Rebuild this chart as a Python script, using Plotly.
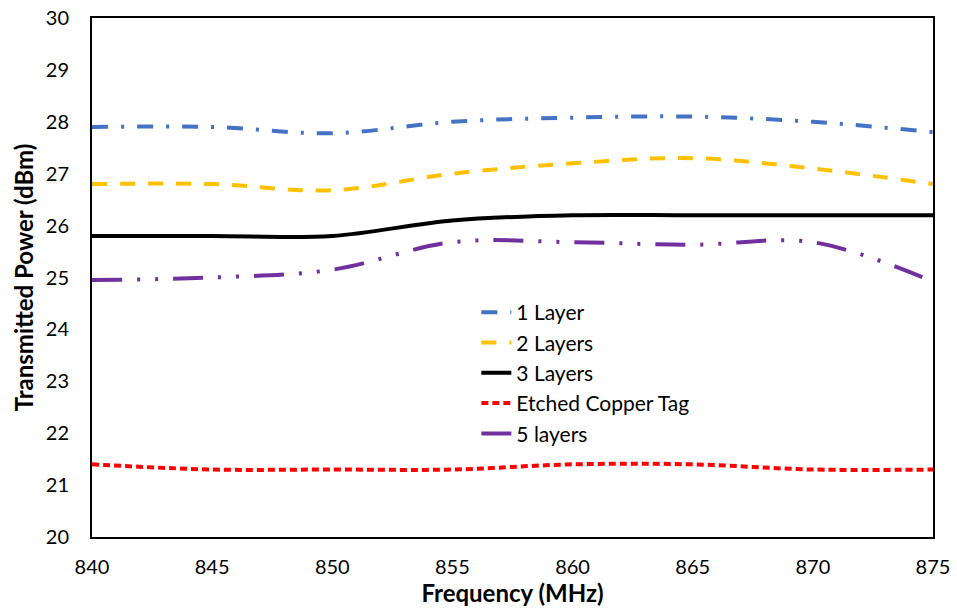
import plotly.graph_objects as go

freq = [840, 845, 850, 855, 860, 865, 870, 875]
layer1 = [27.9, 27.9, 27.78, 28.0, 28.08, 28.1, 28.0, 27.8]
layer2 = [26.8, 26.8, 26.68, 27.0, 27.2, 27.3, 27.1, 26.8]
layer3 = [25.8, 25.8, 25.8, 26.1, 26.2, 26.2, 26.2, 26.2]
copper = [21.4, 21.3, 21.3, 21.3, 21.4, 21.4, 21.3, 21.3]
layer5 = [24.95, 25.0, 25.15, 25.68, 25.68, 25.63, 25.68, 24.92]

series = [
    ("1 Layer", layer1, "#4472C4", "16px,13px,3px,13px"),
    ("2 Layers", layer2, "#FFC000", "15px,13px"),
    ("3 Layers", layer3, "#000000", "solid"),
    ("Etched Copper Tag", copper, "#FF0000", "7px,4px"),
    ("5 layers", layer5, "#7030A0", "30px,15px,3px,15px,3px,15px"),
]

fig = go.Figure()
for name, vals, color, dash in series:
    fig.add_trace(go.Scatter(
        x=freq, y=vals, name=name, mode="lines",
        line=dict(color=color, width=4, dash=dash, shape="spline", smoothing=1.0),
    ))

font_family = "Lato, 'Open Sans', sans-serif"
fig.update_layout(
    width=957, height=608,
    margin=dict(l=92, r=24, t=18, b=71),
    paper_bgcolor="white", plot_bgcolor="white",
    font=dict(family=font_family, size=20, color="#000000"),
    showlegend=True,
    legend=dict(x=0.457, y=0.472, xanchor="left", yanchor="top",
                bgcolor="rgba(255,255,255,0)", font=dict(size=21, family=font_family),
                tracegroupgap=0),
    xaxis=dict(range=[840, 875], dtick=5, showgrid=False, zeroline=False,
               showline=True, linecolor="black", linewidth=2, mirror=True,
               ticks="outside", ticklen=11, tickcolor="rgba(0,0,0,0)",
               tickfont=dict(size=20), automargin=False,
               title=dict(text="<b>Frequency (MHz)</b>", font=dict(size=24), standoff=2)),
    yaxis=dict(range=[20, 30], dtick=1, showgrid=False, zeroline=False,
               showline=True, linecolor="black", linewidth=2, mirror=True,
               ticks="outside", ticklen=17, tickcolor="rgba(0,0,0,0)",
               tickfont=dict(size=20), automargin=False,
               title=dict(text="<b>Transmitted Power (dBm)</b>", font=dict(size=24), standoff=5)),
)

fig.write_html("out.html", config={"displayModeBar": False},
               post_script="document.body.style.margin='0';document.body.style.overflow='hidden';")
